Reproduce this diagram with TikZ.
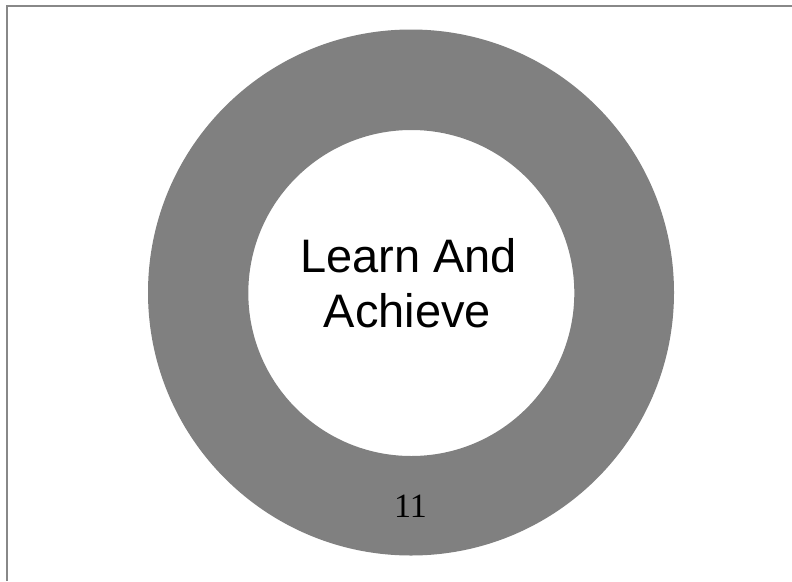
\documentclass[tikz,border=0pt]{standalone}
\usepackage{fontspec}
\setmainfont{Liberation Serif}
\newfontfamily\arialfont{Liberation Sans}
\definecolor{ringgray}{RGB}{128,128,128}
\definecolor{framegray}{RGB}{136,136,136}
\tikzset{
  ringlabel/.style={font=\arialfont\fontsize{47}{55}\selectfont, text=black, inner sep=0pt, anchor=base},
  numlabel/.style={font=\fontsize{34}{40}\selectfont, text=black, inner sep=0pt, anchor=base},
  frameline/.style={draw=framegray, line width=2pt}
}
\begin{document}
\begin{tikzpicture}[x=1pt,y=-1pt]
\useasboundingbox (0,0) rectangle (792,581);
\fill[white] (0,0) rectangle (792,581);
\draw[frameline] (7,581) -- (7,6) -- (792,6);
\fill[ringgray, even odd rule] (411,292.5) circle[radius=263] (411.3,293) circle[radius=163];
\node[ringlabel] (learn) at (408.5,272) {Learn And};
\node[ringlabel] (achieve) at (407.5,327) {Achieve};
\node[numlabel] (num) at (410.5,517) {11};
\end{tikzpicture}
\end{document}
